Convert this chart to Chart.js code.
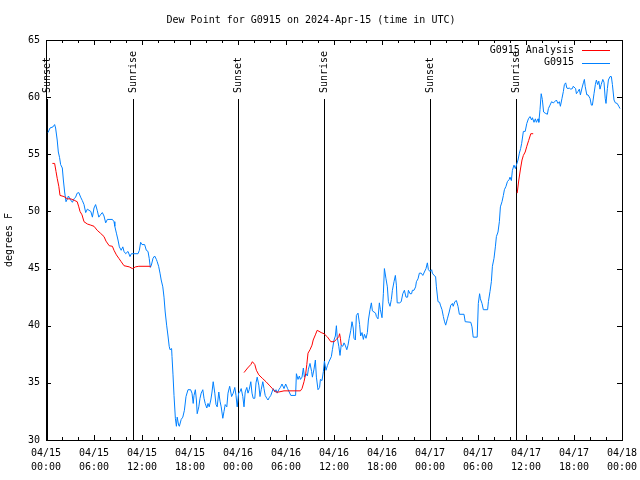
<!DOCTYPE html>
<html><head><meta charset="utf-8">
<script src="https://cdn.jsdelivr.net/npm/chart.js@4/dist/chart.umd.min.js"></script>
<style>html,body{margin:0;padding:0;background:#fff;}</style>
</head><body>
<canvas id="c" width="640" height="480"></canvas>
<script>
const titleText = "Dew Point for G0915 on 2024-Apr-15 (time in UTC)";
const yAxisLabel = "degrees F";
const seriesNames = ["G0915 Analysis", "G0915"];
const seriesColors = ["#ff0000", "#0080ff"];

// hours since 04/15 00:00 UTC
const obsHours = [0.25,0.5,0.875,1.08,1.2,1.4,1.54,1.7,1.83,2.04,2.17,2.33,2.5,2.67,2.8,3.08,3.3,3.5,3.7,3.9,4.1,4.33,4.54,4.75,4.96,5.17,5.375,5.6,5.8,6.0,6.2,6.4,6.6,6.8,7.04,7.25,7.46,7.67,8.3,8.5,8.6,8.8,9.0,9.17,9.4,9.6,9.75,9.96,10.25,10.5,10.67,11.5,11.67,11.83,12.0,12.33,12.54,12.75,12.9,13.04,13.17,13.375,13.58,13.8,13.9,14.08,14.25,14.4,14.6,14.75,14.9,15.08,15.25,15.4,15.5,15.7,15.75,15.875,16.0,16.17,16.3,16.4,16.58,16.67,16.9,17.1,17.3,17.5,17.75,18.08,18.25,18.4,18.5,18.67,18.8,18.9,19.1,19.25,19.4,19.6,19.75,19.9,20.1,20.25,20.4,20.6,20.75,20.9,21.1,21.25,21.4,21.6,21.75,21.9,22.1,22.25,22.4,22.6,22.75,22.96,23.2,23.4,23.6,23.75,23.9,24.08,24.25,24.4,24.6,24.75,24.9,25.1,25.25,25.4,25.6,25.75,25.9,26.1,26.25,26.4,26.6,26.75,26.9,27.1,27.25,27.4,27.6,27.75,27.9,28.1,28.25,28.4,28.6,28.75,28.9,29.1,29.3,29.5,29.75,29.96,30.2,30.4,30.6,31.2,31.3,31.5,31.67,31.8,32.0,32.17,32.3,32.5,32.67,32.8,33.0,33.2,33.3,33.5,33.67,33.8,34.0,34.2,34.3,34.5,34.67,34.8,35.0,35.17,35.4,35.67,35.8,36.0,36.17,36.3,36.4,36.6,36.75,36.9,37.1,37.25,37.4,37.6,37.75,37.9,38.1,38.25,38.4,38.5,38.67,38.8,39.0,39.2,39.33,39.5,39.67,39.8,40.0,40.17,40.3,40.5,40.67,40.8,41.0,41.2,41.3,41.5,41.67,41.8,42.0,42.17,42.3,42.5,42.67,42.8,43.0,43.17,43.3,43.5,43.67,43.8,43.9,44.2,44.4,44.6,44.8,45.0,45.2,45.3,45.5,45.7,45.8,46.0,46.2,46.3,46.5,46.67,46.9,47.1,47.3,47.5,47.67,47.8,48.0,48.2,48.3,48.5,48.7,48.8,49.0,49.2,49.3,49.5,49.67,49.8,49.96,50.17,50.4,50.6,50.8,50.9,51.1,51.3,51.5,51.67,52.25,52.4,53.1,53.25,53.4,53.9,54.04,54.2,54.3,54.5,54.67,55.2,55.3,55.5,55.67,55.8,56.0,56.17,56.3,56.5,56.67,56.8,57.0,57.17,57.3,57.5,57.67,57.9,58.0,58.17,58.3,58.5,58.67,58.8,59.0,59.17,59.33,59.46,59.67,59.9,60.1,60.3,60.5,60.7,60.8,61.0,61.17,61.3,61.5,61.6,61.75,61.9,62.04,62.2,62.4,62.67,62.8,63.0,63.2,63.4,63.6,63.8,64.0,64.17,64.3,64.5,64.67,64.8,64.96,65.1,65.25,65.4,65.6,65.8,65.9,66.2,66.3,66.5,66.67,66.8,67.0,67.17,67.3,67.4,67.6,67.75,68.0,68.17,68.3,68.5,68.67,68.8,68.96,69.1,69.25,69.4,69.6,69.75,69.9,70.0,70.17,70.3,70.5,70.67,70.8,71.0,71.17,71.4,71.6,71.75];
const obsValues = [56.9,57.3,57.4,57.6,57.3,56.25,55.2,54.7,54.1,53.8,52.75,51.7,50.85,51.1,51.35,51.0,50.8,51.1,51.25,51.6,51.65,51.25,50.95,50.6,49.9,50.2,50.1,50.0,49.5,50.3,50.6,50.1,49.5,49.7,49.9,49.6,49.0,49.3,49.3,49.1,48.7,48.1,47.5,46.9,46.6,46.9,46.5,46.3,46.5,46.05,46.3,46.3,46.6,47.3,47.1,47.1,46.6,46.5,45.9,45.1,45.3,45.9,46.1,45.8,45.6,45.2,44.6,44.0,43.4,42.5,41.2,40.05,39.1,38.2,37.9,38.0,37.3,35.7,33.9,31.9,31.2,32.0,31.3,31.2,31.8,32.0,32.6,33.8,34.4,34.4,34.1,33.2,33.9,34.4,33.5,32.3,32.9,33.65,34.1,34.4,33.65,33.2,32.8,33.2,32.9,33.5,34.2,35.1,34.1,33.1,32.9,34.2,33.4,32.9,31.9,32.5,33.1,32.9,34.1,34.7,33.8,34.1,34.6,33.9,32.9,34.1,34.25,34.5,33.8,32.9,34.2,34.6,34.1,34.4,35.1,34.1,33.65,33.65,35.0,35.5,34.8,33.8,34.4,35.1,34.5,33.9,33.65,33.5,33.7,33.9,34.2,34.5,34.2,34.4,34.1,34.4,34.6,34.9,34.5,34.9,34.5,34.2,33.9,33.9,35.8,35.3,35.6,35.3,35.5,36.3,35.5,35.8,35.6,36.2,36.7,36.0,35.5,36.2,37.0,35.5,34.4,34.6,35.3,35.2,36.0,36.9,36.1,36.5,36.9,37.3,37.9,38.75,39.1,40.0,39.0,38.2,37.4,38.3,38.2,38.5,38.3,37.9,38.3,38.9,39.6,40.35,39.8,38.9,38.75,40.9,41.1,40.1,39.1,39.4,38.8,39.25,38.9,39.4,40.5,41.4,42.0,41.3,41.2,41.1,40.8,40.6,42.0,41.4,40.7,42.8,45.0,44.1,43.4,42.1,41.7,42.3,43.1,43.85,44.4,43.55,42.0,42.0,42.1,42.8,43.1,42.5,42.5,43.1,42.8,42.8,43.1,43.1,43.4,43.85,44.1,44.6,44.6,44.4,44.7,45.0,45.5,44.9,44.75,44.9,44.6,44.4,44.3,43.4,42.1,42.05,41.8,41.4,40.8,40.4,40.05,40.6,41.2,41.8,41.95,41.7,42.1,42.2,41.7,41.0,41.0,40.35,40.3,39.9,39.0,39.0,41.95,42.8,42.35,41.95,41.4,41.4,42.1,43.0,43.85,45.2,45.9,46.9,47.8,48.2,49.1,50.4,50.85,51.4,51.9,52.2,52.6,52.8,53.0,52.7,53.6,54.05,53.75,54.05,54.5,55.1,55.5,55.96,57.0,57.0,57.7,58.1,58.3,58.0,58.2,57.8,58.1,57.8,58.1,57.8,58.9,60.3,59.8,58.7,58.6,58.5,59.0,59.3,59.6,59.5,59.6,59.75,59.45,59.6,59.2,59.9,60.5,61.1,61.25,60.8,60.75,60.8,60.7,60.75,60.95,60.75,60.3,60.5,60.7,60.2,60.8,61.25,61.55,60.95,60.2,60.2,59.9,59.3,59.3,60.3,61.1,61.5,61.1,61.4,60.7,61.1,61.55,61.3,59.9,59.45,60.75,61.5,61.8,61.8,61.1,59.75,59.5,59.45,59.2,59.0];

const anaHours = [0.8,1.08,1.25,1.4,1.6,1.75,2.25,2.67,3.1,3.6,3.9,4.1,4.25,4.5,4.75,5.17,5.6,6.0,6.4,6.8,7.25,7.5,7.9,8.3,8.5,8.8,9.1,9.4,9.75,10.4,10.8,11.2,11.6,13.1,18.0,24.75,25.2,25.6,25.8,26.1,26.3,26.6,27.04,27.5,27.9,28.3,28.7,29.1,29.75,31.8,32.0,32.25,32.46,32.6,32.75,33.0,33.25,33.4,33.67,33.9,34.4,34.75,35.2,35.6,36.0,36.3,36.6,36.7,36.8,36.9,48.0,58.9,59.1,59.33,59.5,59.67,59.9,60.1,60.33,60.6,60.9];
const anaValues = [54.2,54.2,53.5,52.9,52.2,51.4,51.3,51.1,51.1,50.95,50.85,50.4,50.0,49.7,49.1,48.9,48.8,48.7,48.35,48.1,47.8,47.4,47.0,46.95,46.6,46.2,45.9,45.6,45.25,45.15,45.0,45.15,45.2,45.2,null,35.9,36.3,36.6,36.85,36.6,36.1,35.7,35.4,35.1,34.8,34.5,34.2,34.2,34.3,34.3,34.5,35.1,35.8,36.6,37.6,37.9,38.3,38.75,39.2,39.6,39.4,39.3,39.0,38.6,38.6,38.8,39.05,39.3,38.9,38.3,null,51.6,52.75,53.8,54.5,54.9,55.2,55.7,56.2,56.8,56.8];

const xTickHours = [0,6,12,18,24,30,36,42,48,54,60,66,72];
const xTickLabels = ["04/15 00:00","04/15 06:00","04/15 12:00","04/15 18:00","04/16 00:00","04/16 06:00","04/16 12:00","04/16 18:00","04/17 00:00","04/17 06:00","04/17 12:00","04/17 18:00","04/18 00:00"];
const yTicks = [30,35,40,45,50,55,60,65];

const eventHours = [0.09,10.9,24.06,34.8,48.04,58.7];
const eventNames = ["Sunset","Sunrise","Sunset","Sunrise","Sunset","Sunrise"];

const FONT = "'DejaVu Sans Mono', monospace";
Chart.defaults.font.family = FONT;
Chart.defaults.font.size = 10;
Chart.defaults.color = "#000";

function pts(hs, vs){ return hs.map((h,i)=>({x:h, y:vs[i]})); }

const framePlugin = {
  id: 'frame',
  beforeDatasetsDraw(chart){
    const {ctx, chartArea:a, scales:{x}} = chart;
    ctx.save();
    ctx.strokeStyle = '#000'; ctx.lineWidth = 1;
    ctx.fillStyle = '#000';
    ctx.font = "10px " + FONT;
    eventHours.forEach((h,i)=>{
      const px = Math.round(x.getPixelForValue(h)) + 0.5;
      ctx.beginPath(); ctx.moveTo(px, 99); ctx.lineTo(px, a.bottom); ctx.stroke();
      ctx.save();
      ctx.translate(px, 93);
      ctx.rotate(-Math.PI/2);
      ctx.textAlign = 'left'; ctx.textBaseline = 'middle';
      ctx.fillText(eventNames[i], 0, 0);
      ctx.restore();
    });
    ctx.restore();
  },
  afterDraw(chart){
    const {ctx, chartArea:a, scales:{x, y}} = chart;
    ctx.save();
    ctx.strokeStyle = '#000'; ctx.lineWidth = 1;
    ctx.strokeRect(a.left + 0.5, a.top + 0.5, a.right - a.left, a.bottom - a.top);
    ctx.beginPath();
    x.ticks.forEach(t=>{
      const px = Math.round(x.getPixelForValue(t.value)) + 0.5;
      const len = xTickHours.includes(t.value) ? 5 : 3;
      ctx.moveTo(px, a.bottom); ctx.lineTo(px, a.bottom - len);
      ctx.moveTo(px, a.top); ctx.lineTo(px, a.top + len);
    });
    y.ticks.forEach(t=>{
      const py = Math.round(y.getPixelForValue(t.value)) + 0.5;
      ctx.moveTo(a.left, py); ctx.lineTo(a.left + 5, py);
      ctx.moveTo(a.right, py); ctx.lineTo(a.right - 5, py);
    });
    ctx.stroke();
    // legend
    ctx.font = "10px " + FONT;
    ctx.textAlign = 'right'; ctx.textBaseline = 'middle';
    chart.data.datasets.forEach((ds,i)=>{
      const yy = 50 + i*12.5;
      ctx.fillStyle = '#000';
      ctx.fillText(ds.label, 574, yy);
      ctx.strokeStyle = ds.borderColor;
      ctx.beginPath(); ctx.moveTo(582, Math.round(yy)+0.5); ctx.lineTo(610, Math.round(yy)+0.5); ctx.stroke();
    });
    ctx.restore();
  }
};

new Chart(document.getElementById('c'), {
  type: 'line',
  data: {
    datasets: [
      { label: seriesNames[0], data: pts(anaHours, anaValues), borderColor: seriesColors[0], borderWidth: 1, pointRadius: 0, spanGaps: false, tension: 0 },
      { label: seriesNames[1], data: pts(obsHours, obsValues), borderColor: seriesColors[1], borderWidth: 1, pointRadius: 0, tension: 0 }
    ]
  },
  options: {
    responsive: false,
    animation: false,
    devicePixelRatio: 1,
    layout: { padding: { left: 0, right: 18, top: 0, bottom: 0 } },
    plugins: {
      legend: { display: false },
      tooltip: { enabled: false },
      title: { display: true, text: titleText, font: { size: 10, weight: 'normal', lineHeight: '12px' }, padding: { top: 14, bottom: 14 }, color: '#000' }
    },
    scales: {
      x: {
        type: 'linear', min: 0, max: 72,
        grid: { display: false, drawTicks: false },
        border: { display: false },
        ticks: {
          stepSize: 2, autoSkip: false, maxRotation: 0, padding: 6,
          font: { size: 10, lineHeight: '14px' },
          callback: v => { const i = xTickHours.indexOf(v); return i >= 0 ? xTickLabels[i].split(' ') : ''; }
        },
        afterFit: s => { s.height = 40; s.paddingLeft = 0; s.paddingRight = 0; }
      },
      y: {
        min: 30, max: 65,
        grid: { display: false, drawTicks: false },
        border: { display: false },
        ticks: { stepSize: 5, padding: 6, font: { size: 10 }, callback: v => yTicks.includes(v) ? String(v) : '' },
        title: { display: true, text: yAxisLabel, font: { size: 10, lineHeight: '11px' }, padding: { top: 4, bottom: 0 } },
        afterFit: s => { s.width = 46; s.paddingTop = 0; s.paddingBottom = 0; }
      }
    }
  },
  plugins: [framePlugin]
});
</script>
</body></html>
